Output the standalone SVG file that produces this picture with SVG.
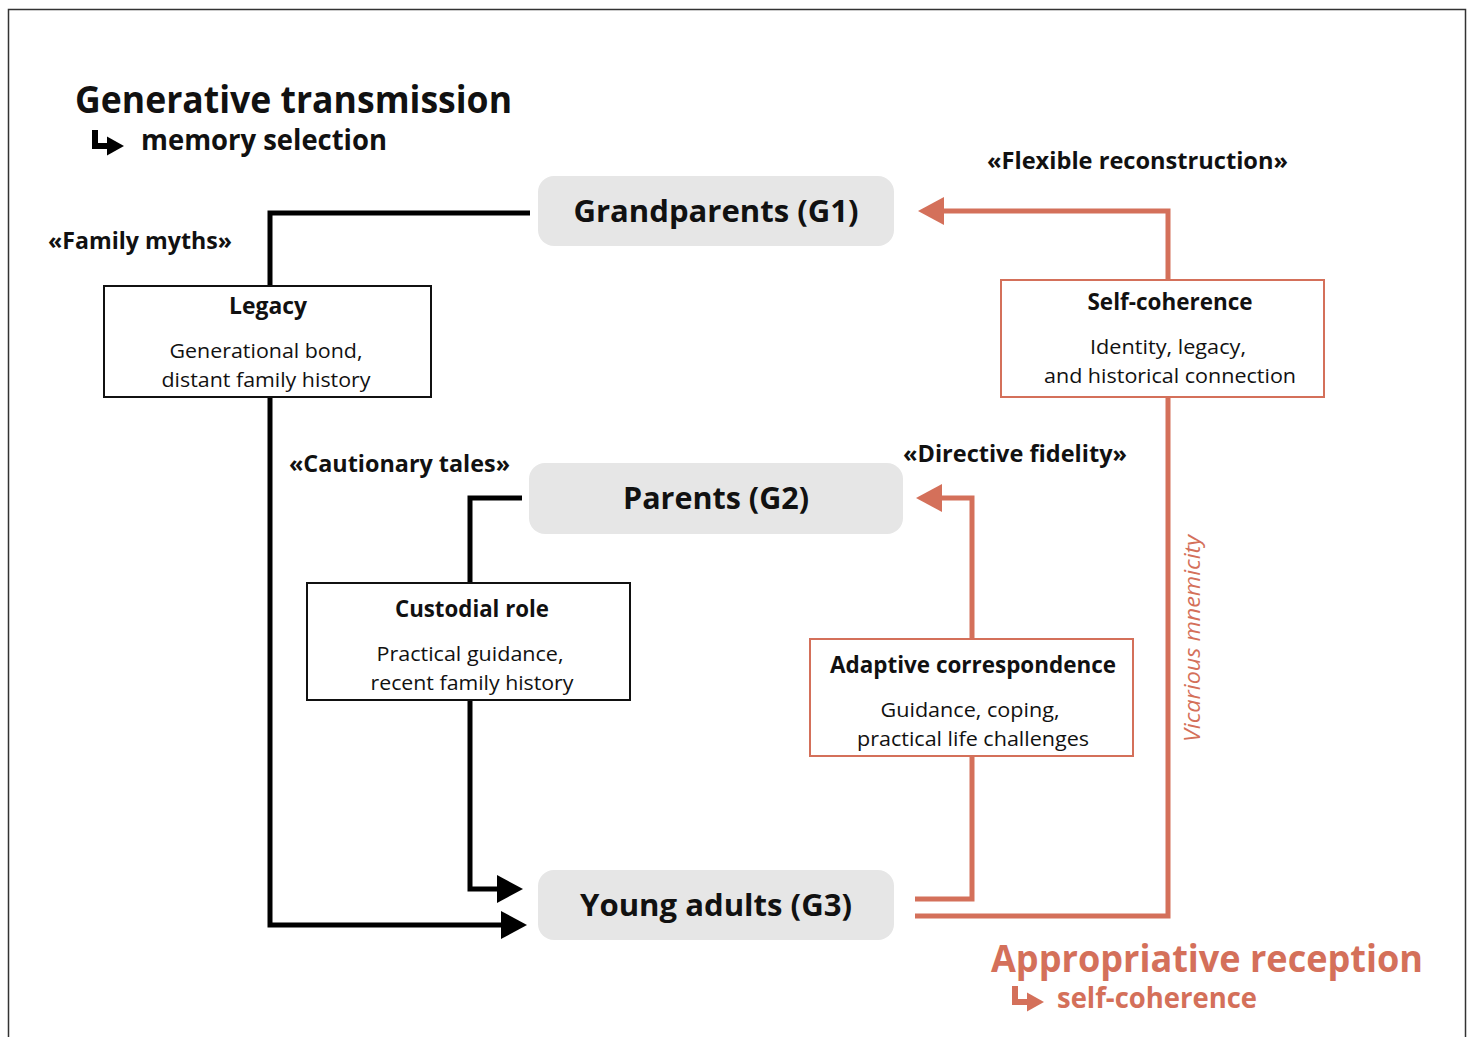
<svg xmlns="http://www.w3.org/2000/svg" width="1473" height="1037" viewBox="0 0 1473 1037">
  <style>
    text { font-family: "Open Sans", "Noto Sans", "Liberation Sans", sans-serif; fill: #111; }
    .gen { fill: #e6e6e6; }
    .genlabel { font-size: 31px; font-weight: 700; text-anchor: middle; }
    .box { fill: #fff; stroke: #111; stroke-width: 2; }
    .box.warm { stroke: #d4705a; }
    .btitle { font-size: 23px; font-weight: 700; text-anchor: middle; }
    .bsub { font-size: 20.5px; font-weight: 400; text-anchor: middle; }
    .quote { font-size: 23px; font-weight: 700; }
    .wire { fill: none; stroke: #000; stroke-width: 5; }
    .wire.warm { stroke: #d4705a; }
    .head { font-size: 38px; font-weight: 700; }
    .sub { font-size: 29px; font-weight: 700; }
    .warmtxt { fill: #d4705a; }
  </style>
  <defs>
    <marker id="arrowBlack" viewBox="0 0 26 28" refX="0" refY="14" markerWidth="26" markerHeight="28" markerUnits="userSpaceOnUse" orient="auto">
      <path d="M0,0 L26,14 L0,28 Z" fill="#000"/>
    </marker>
    <marker id="arrowWarm" viewBox="0 0 26 28" refX="0" refY="14" markerWidth="26" markerHeight="28" markerUnits="userSpaceOnUse" orient="auto">
      <path d="M0,0 L26,14 L0,28 Z" fill="#d4705a"/>
    </marker>
    <!-- small hooked arrow used beside the subheadings -->
    <g id="hook">
      <path d="M0,0 V16 H14" fill="none" stroke-width="6" stroke-linejoin="miter"/>
      <path d="M12,6.5 L29,16 L12,25.5 Z" stroke="none"/>
    </g>
  </defs>

  <rect width="1473" height="1037" fill="#fff"/>
  <rect x="8.5" y="9.5" width="1457" height="1040" fill="none" stroke="#333" stroke-width="1.5"/>

  <!-- headings -->
  <g id="heading-transmission">
    <text class="head" x="75" y="113" textLength="437" lengthAdjust="spacingAndGlyphs">Generative transmission</text>
    <use href="#hook" transform="translate(95,130)" stroke="#000" fill="#000"/>
    <text class="sub" x="141" y="150" textLength="246" lengthAdjust="spacingAndGlyphs">memory selection</text>
  </g>
  <g id="heading-reception">
    <text class="head warmtxt" x="991" y="972" textLength="432" lengthAdjust="spacingAndGlyphs">Appropriative reception</text>
    <use href="#hook" transform="translate(1015,986)" stroke="#d4705a" fill="#d4705a"/>
    <text class="sub warmtxt" x="1057" y="1008" textLength="200" lengthAdjust="spacingAndGlyphs">self-coherence</text>
  </g>

  <!-- connectors -->
  <g id="connectors">
    <path class="wire" d="M530,213 H270 V925 H501" marker-end="url(#arrowBlack)"/>
    <path class="wire" d="M522,498 H470 V889 H497" marker-end="url(#arrowBlack)"/>
    <path class="wire warm" d="M915,916 H1168 V211 H944" marker-end="url(#arrowWarm)"/>
    <path class="wire warm" d="M915,899 H972 V498 H942" marker-end="url(#arrowWarm)"/>
  </g>

  <!-- generations -->
  <g id="node-g1">
    <rect class="gen" x="538" y="176" width="356" height="70" rx="16"/>
    <text class="genlabel" x="716" y="222" textLength="285" lengthAdjust="spacingAndGlyphs">Grandparents (G1)</text>
  </g>
  <g id="node-g2">
    <rect class="gen" x="529" y="463" width="374" height="71" rx="16"/>
    <text class="genlabel" x="716" y="509" textLength="186" lengthAdjust="spacingAndGlyphs">Parents (G2)</text>
  </g>
  <g id="node-g3">
    <rect class="gen" x="538" y="870" width="356" height="70" rx="16"/>
    <text class="genlabel" x="716" y="916" textLength="272" lengthAdjust="spacingAndGlyphs">Young adults (G3)</text>
  </g>

  <!-- transmission boxes -->
  <g id="node-legacy">
    <rect class="box" x="104" y="286" width="327" height="111"/>
    <text class="btitle" x="268" y="314" textLength="78" lengthAdjust="spacingAndGlyphs">Legacy</text>
    <text class="bsub" x="266" y="358" textLength="193" lengthAdjust="spacingAndGlyphs">Generational bond,</text>
    <text class="bsub" x="266" y="387" textLength="209" lengthAdjust="spacingAndGlyphs">distant family history</text>
  </g>
  <g id="node-custodial">
    <rect class="box" x="307" y="583" width="323" height="117"/>
    <text class="btitle" x="472" y="617" textLength="154" lengthAdjust="spacingAndGlyphs">Custodial role</text>
    <text class="bsub" x="470" y="661" textLength="187" lengthAdjust="spacingAndGlyphs">Practical guidance,</text>
    <text class="bsub" x="472" y="690" textLength="203" lengthAdjust="spacingAndGlyphs">recent family history</text>
  </g>
  <g id="node-selfcoherence">
    <rect class="box warm" x="1001" y="280" width="323" height="117"/>
    <text class="btitle" x="1170" y="310" textLength="165" lengthAdjust="spacingAndGlyphs">Self-coherence</text>
    <text class="bsub" x="1168" y="354" textLength="156" lengthAdjust="spacingAndGlyphs">Identity, legacy,</text>
    <text class="bsub" x="1170" y="383" textLength="252" lengthAdjust="spacingAndGlyphs">and historical connection</text>
  </g>
  <g id="node-adaptive">
    <rect class="box warm" x="810" y="639" width="323" height="117"/>
    <text class="btitle" x="973" y="673" textLength="286" lengthAdjust="spacingAndGlyphs">Adaptive correspondence</text>
    <text class="bsub" x="970" y="717" textLength="179" lengthAdjust="spacingAndGlyphs">Guidance, coping,</text>
    <text class="bsub" x="973" y="746" textLength="232" lengthAdjust="spacingAndGlyphs">practical life challenges</text>
  </g>

  <!-- path labels -->
  <g id="labels">
    <text class="quote" x="48" y="249" textLength="184" lengthAdjust="spacingAndGlyphs">«Family myths»</text>
    <text class="quote" x="289" y="472" textLength="221" lengthAdjust="spacingAndGlyphs">«Cautionary tales»</text>
    <text class="quote" x="987" y="169" textLength="301" lengthAdjust="spacingAndGlyphs">«Flexible reconstruction»</text>
    <text class="quote" x="903" y="462" textLength="224" lengthAdjust="spacingAndGlyphs">«Directive fidelity»</text>
    <text class="warmtxt" x="0" y="0" transform="translate(1200,638.5) rotate(-90)" text-anchor="middle" font-size="21" font-style="italic" textLength="207" lengthAdjust="spacingAndGlyphs">Vicarious mnemicity</text>
  </g>
</svg>
